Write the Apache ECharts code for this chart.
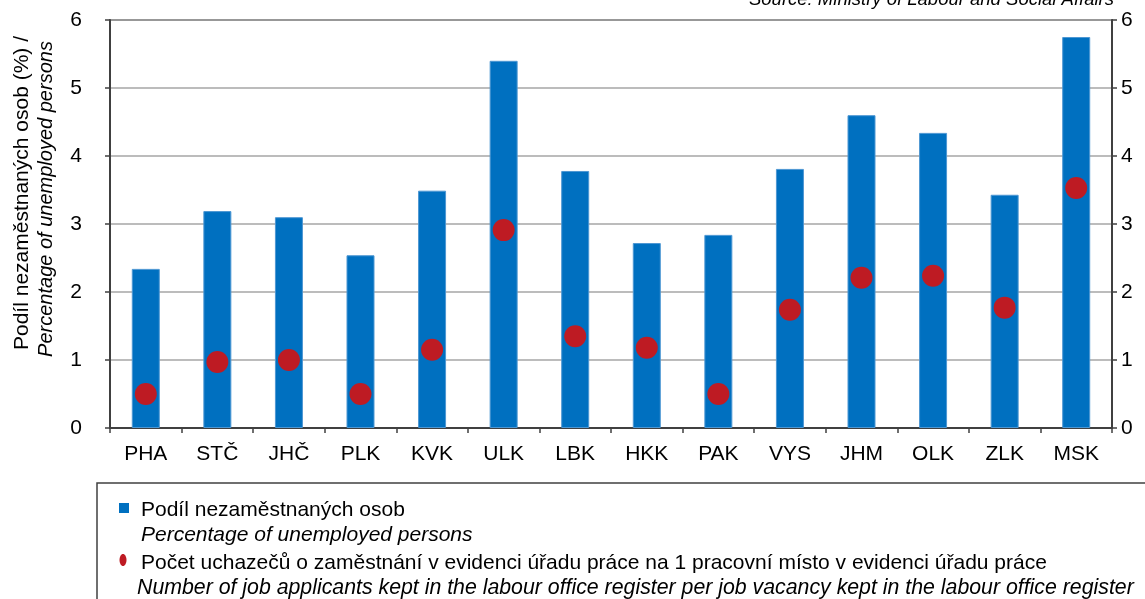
<!DOCTYPE html>
<html>
<head>
<meta charset="utf-8">
<script src="https://cdn.jsdelivr.net/npm/echarts@6/dist/echarts.min.js"></script>
<style>
  html, body { margin: 0; padding: 0; background: #fff; }
  #chart { width: 1145px; height: 599px; }
</style>
</head>
<body>
<div id="chart"></div>
<script>
// kraje
var regions = ['PHA', 'STČ', 'JHČ', 'PLK', 'KVK', 'ULK', 'LBK', 'HKK', 'PAK', 'VYS', 'JHM', 'OLK', 'ZLK', 'MSK'];
// podíl nezaměstnaných osob (%)
var unemployedShare = [2.34, 3.19, 3.10, 2.54, 3.49, 5.40, 3.78, 2.72, 2.84, 3.81, 4.60, 4.34, 3.43, 5.75];
// uchazeči na 1 pracovní místo
var applicantsPerVacancy = [0.50, 0.97, 1.00, 0.50, 1.15, 2.91, 1.35, 1.18, 0.50, 1.74, 2.21, 2.24, 1.77, 3.53];
var yTicks = [0, 1, 2, 3, 4, 5, 6];

var FONT = 'Liberation Sans, Arial, sans-serif';
var BLUE = '#0070c0';
var RED = '#be1b23';
var AXIS = '#404040';

var chart = echarts.init(document.getElementById('chart'), null, { renderer: 'canvas' });

function yAxisCfg(pos, margin) {
    return {
        type: 'value',
        position: pos,
        min: yTicks[0],
        max: yTicks[yTicks.length - 1],
        interval: 1,
        axisLine: { show: true, lineStyle: { color: AXIS, width: 2 } },
        axisTick: { show: true, inside: false, length: 5, lineStyle: { color: AXIS, width: 1.5 } },
        axisLabel: { margin: margin, color: '#000', fontSize: 21, fontFamily: FONT },
        splitLine: { show: pos == 'left', lineStyle: { color: '#a6a6a6', width: 1.5 } }
    };
}

chart.setOption({
    animation: false,
    grid: { left: 110, right: 33, top: 20, bottom: 171, show: true, borderColor: AXIS, borderWidth: 1.5 },
    xAxis: {
        type: 'category',
        data: regions,
        axisLine: { lineStyle: { color: AXIS, width: 2 } },
        axisTick: { show: true, length: 5, lineStyle: { color: AXIS, width: 1.5 } },
        axisLabel: { margin: 16, color: '#000', fontSize: 21, fontFamily: FONT }
    },
    yAxis: [yAxisCfg('left', 28), yAxisCfg('right', 9)],
    series: [
        {
            name: 'Podíl nezaměstnaných osob',
            type: 'bar',
            data: unemployedShare,
            barWidth: 28,
            itemStyle: { color: BLUE, borderColor: '#4d97d3', borderWidth: 1 }
        },
        {
            name: 'Počet uchazečů',
            type: 'scatter',
            yAxisIndex: 1,
            data: applicantsPerVacancy,
            symbol: 'circle',
            symbolSize: 22,
            itemStyle: { color: RED, opacity: 1 }
        }
    ],
    graphic: [
        // zdroj
        {
            type: 'text', right: 31, top: -10,
            style: { text: 'Source: Ministry of Labour and Social Affairs', font: 'italic 18.5px ' + FONT, fill: '#000' }
        },
        // popis osy y
        {
            type: 'text', x: 22, y: 193, rotation: Math.PI / 2,
            style: { text: 'Podíl nezaměstnaných osob (%) /', font: '21px ' + FONT, fill: '#000', align: 'center', verticalAlign: 'middle' }
        },
        {
            type: 'text', x: 46, y: 199, rotation: Math.PI / 2,
            style: { text: 'Percentage of unemployed persons', font: 'italic 20px ' + FONT, fill: '#000', align: 'center', verticalAlign: 'middle' }
        },
        // legenda
        {
            type: 'rect', shape: { x: 97, y: 483, width: 1060, height: 130 },
            style: { fill: 'none', stroke: AXIS, lineWidth: 1.5 }
        },
        {
            type: 'rect', shape: { x: 119, y: 503, width: 10, height: 10 },
            style: { fill: BLUE }
        },
        {
            type: 'text', x: 141, y: 510,
            style: { text: 'Podíl nezaměstnaných osob', font: '21px ' + FONT, fill: '#000', verticalAlign: 'middle' }
        },
        {
            type: 'text', x: 141, y: 535,
            style: { text: 'Percentage of unemployed persons', font: 'italic 21px ' + FONT, fill: '#000', verticalAlign: 'middle' }
        },
        {
            type: 'ellipse', shape: { cx: 123, cy: 560, rx: 3.5, ry: 6 },
            style: { fill: RED }
        },
        {
            type: 'text', x: 141, y: 563,
            style: { text: 'Počet uchazečů o zaměstnání v evidenci úřadu práce na 1 pracovní místo v evidenci úřadu práce', font: '21px ' + FONT, fill: '#000', verticalAlign: 'middle' }
        },
        {
            type: 'text', x: 137, y: 588,
            style: { text: 'Number of job applicants kept in the labour office register per job vacancy kept in the labour office register', font: 'italic 21.3px ' + FONT, fill: '#000', verticalAlign: 'middle' }
        }
    ]
});
</script>
</body>
</html>
